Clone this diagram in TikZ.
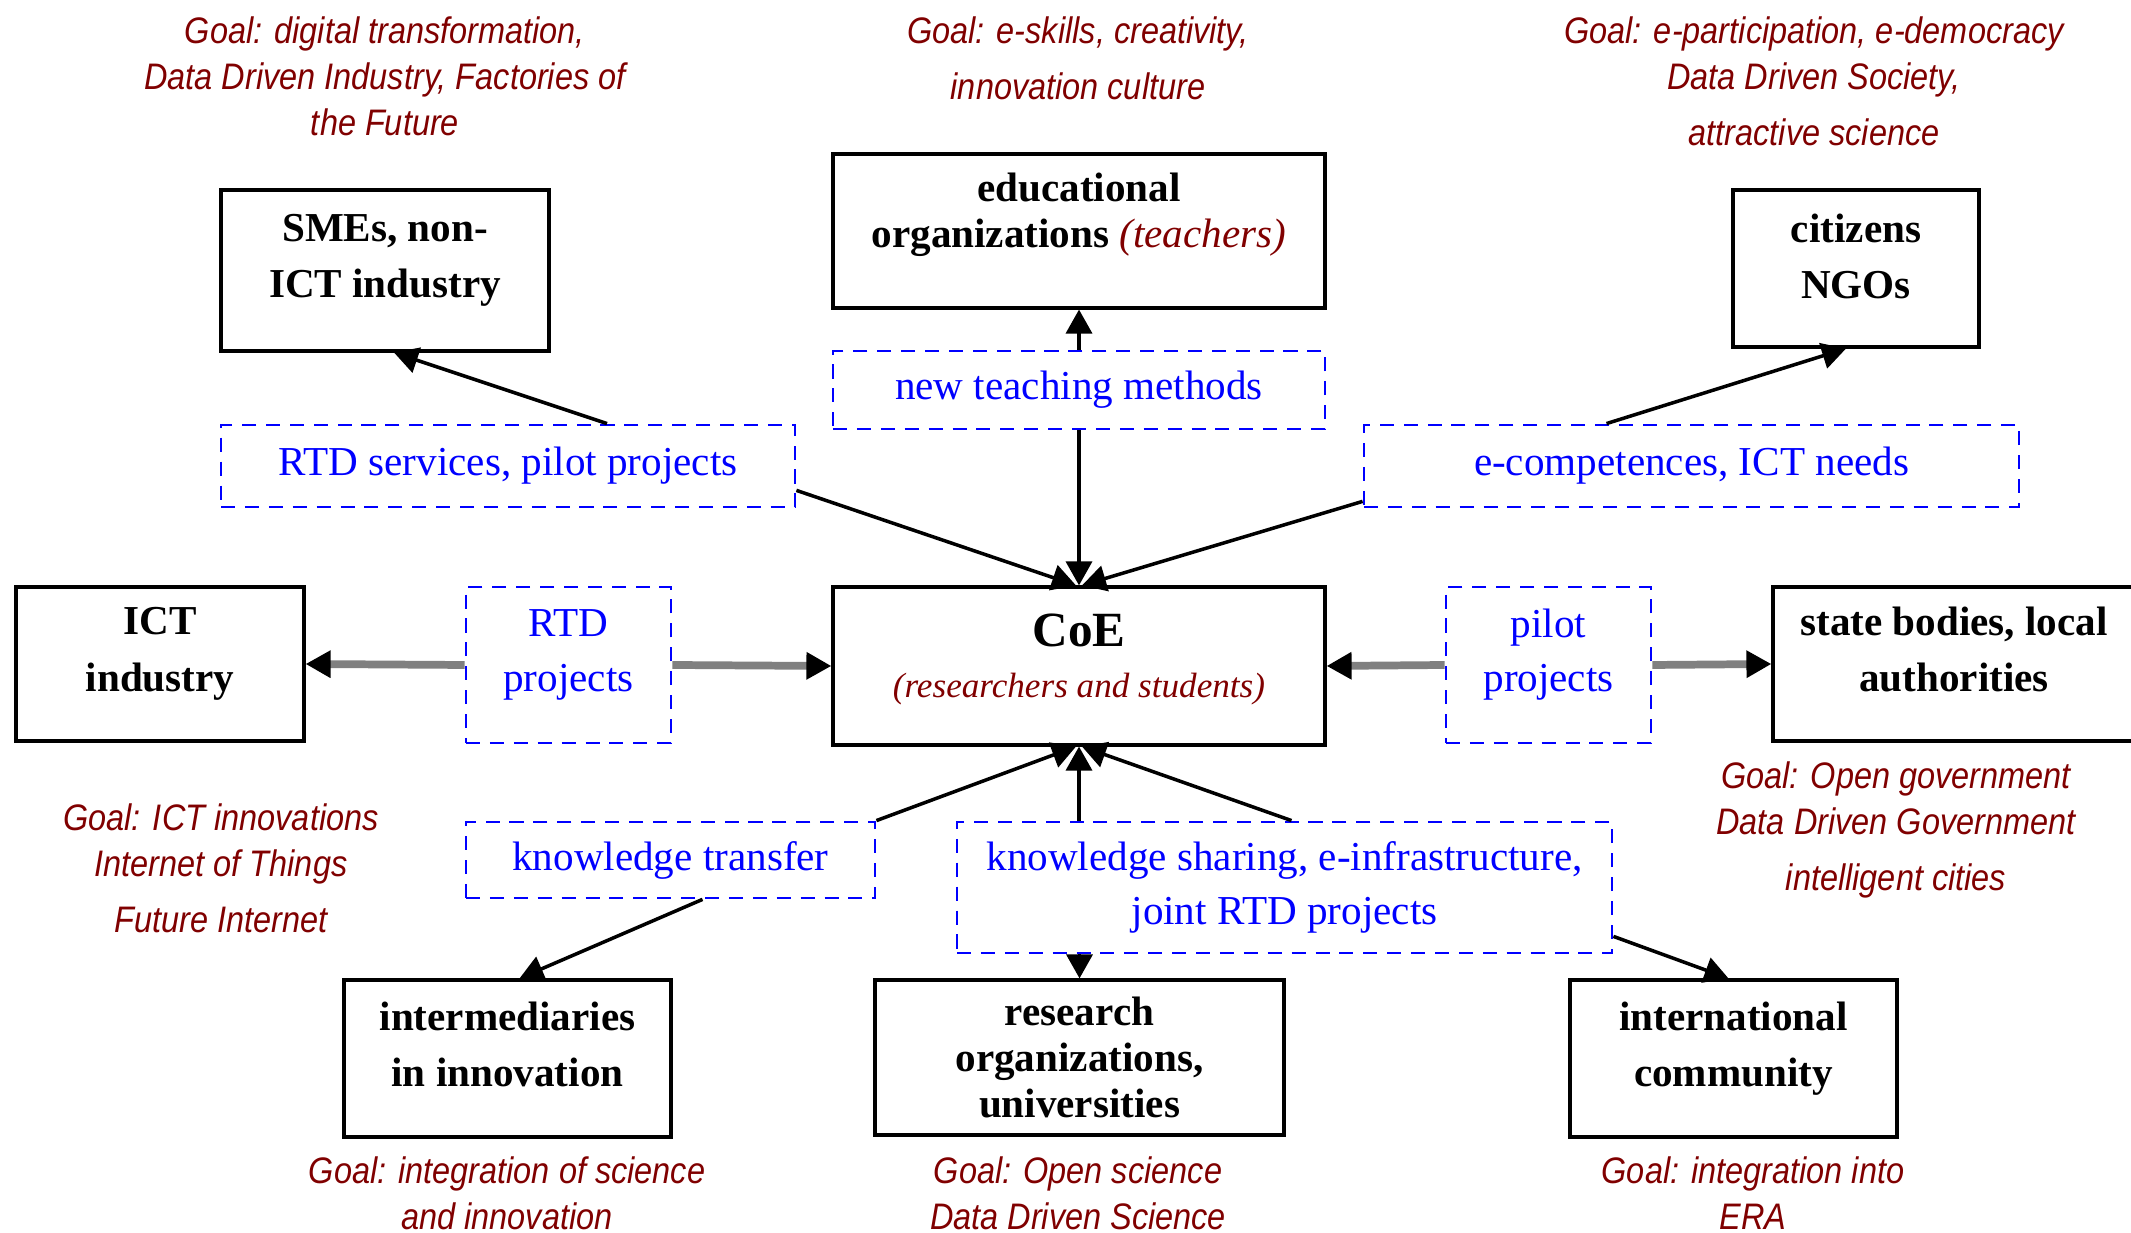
\documentclass[tikz,border=0pt]{standalone}
\usepackage{fontspec}
\setmainfont{Liberation Serif}
\newfontfamily\goalfont[FakeStretch=0.88]{Liberation Sans}
\usetikzlibrary{arrows.meta,positioning}
\definecolor{goalred}{RGB}{128,0,0}
\definecolor{linkblue}{RGB}{0,0,255}
\newcommand{\boxpad}{\rule[-2.9mm]{0pt}{0pt}}

\begin{document}
\begin{tikzpicture}
[line width=0.9pt, >={Triangle[length=2.4mm,width=2.6mm]},
actor/.style={rectangle, draw, line width=0.9pt, inner sep=0pt, align=center, font=\bfseries\fontsize{11.7}{16}\selectfont},
channel/.style={rectangle, draw=linkblue, dash pattern=on 4pt off 2.8pt, line width=0.8pt, inner sep=0pt, align=center, text=linkblue, font=\fontsize{11.7}{15.4}\selectfont},
goal/.style={align=center, text=goalred, font=\goalfont\itshape\fontsize{10.5}{13.1}\selectfont},
flow/.style={->, line width=1pt, draw=black},
bus/.style={-{Triangle[length=2.5mm,width=2.6mm,color=black]}, line width=2.2pt, draw=gray}]

\useasboundingbox (0,0) rectangle (21.31,12.33);

\node[goal] (gsme) at (3.85,11.57) {Goal: digital transformation,\\Data Driven Industry, Factories of\\the Future};
\node[goal] (gedu) at (10.78,11.75) {Goal: e-skills, creativity,\\[2.8pt]innovation culture};
\node[goal] (gcit) at (18.14,11.52) {Goal: e-participation, e-democracy\\Data Driven Society,\\[2.8pt]attractive science};

\node[actor, minimum width=3.28cm, minimum height=1.61cm] (sme) at (3.85,9.625) {SMEs, non-\\ICT industry\boxpad};
\node[actor, minimum width=4.92cm, minimum height=1.54cm, font=\bfseries\fontsize{11.7}{13}\selectfont] (edu) at (10.79,10.02) {educational\\organizations {\mdseries\itshape\color{goalred}(teachers)}\rule[-4.2mm]{0pt}{0pt}};
\node[actor, minimum width=2.46cm, minimum height=1.57cm] (cit) at (18.56,9.645) {citizens\\NGOs\rule[-2.4mm]{0pt}{0pt}};

\node[channel, minimum width=4.92cm, minimum height=0.78cm] (teach) at (10.79,8.43) {new teaching methods};
\node[channel, minimum width=5.74cm, minimum height=0.82cm] (rtds) at (5.08,7.67) {RTD services, pilot projects};
\node[channel, minimum width=6.55cm, minimum height=0.82cm] (ecomp) at (16.915,7.67) {e-competences, ICT needs};

\node[actor, minimum width=2.88cm, minimum height=1.54cm] (ict) at (1.60,5.69) {ICT\\industry\boxpad};
\node[channel, minimum width=2.05cm, minimum height=1.56cm] (rtdp) at (5.685,5.68) {RTD\\projects\boxpad};
\node[actor, minimum width=4.92cm, minimum height=1.58cm, font=\bfseries\fontsize{11.7}{14.5}\selectfont] (coe) at (10.79,5.67) {{\fontsize{14}{16}\selectfont CoE}\\{\mdseries\itshape\fontsize{10}{12}\selectfont\color{goalred}(researchers and students)}\rule[-2mm]{0pt}{0pt}};
\node[channel, minimum width=2.05cm, minimum height=1.56cm] (pilot) at (15.485,5.68) {pilot\\projects\boxpad};
\node[actor, minimum width=3.62cm, minimum height=1.54cm] (state) at (19.54,5.69) {state bodies, local\\authorities\boxpad};

\node[goal] (gict) at (2.21,3.645) {Goal: ICT innovations\\Internet of Things\\[2.8pt]Future Internet};
\node[goal] (gstate) at (18.96,4.03) {Goal: Open government\\Data Driven Government\\[2.8pt]intelligent cities};

\node[channel, minimum width=4.09cm, minimum height=0.76cm] (ktr) at (6.705,3.73) {knowledge transfer};
\node[channel, minimum width=6.55cm, minimum height=1.31cm] (ksh) at (12.845,3.455) {knowledge sharing, e-infrastructure,\\joint RTD projects};

\node[actor, minimum width=3.27cm, minimum height=1.57cm] (inter) at (5.075,1.745) {intermediaries\\in innovation\boxpad};
\node[actor, minimum width=4.09cm, minimum height=1.55cm, font=\bfseries\fontsize{11.7}{13}\selectfont] (res) at (10.795,1.755) {research\\organizations,\\universities};
\node[actor, minimum width=3.27cm, minimum height=1.57cm] (intl) at (17.335,1.745) {international\\community\boxpad};

\node[goal] (ginter) at (5.07,0.395) {Goal: integration of science\\and innovation};
\node[goal] (gres) at (10.78,0.395) {Goal: Open science\\Data Driven Science};
\node[goal] (gintl) at (17.53,0.395) {Goal: integration into\\ERA};

\draw[flow] ([xshift=0.99cm]rtds.north) -- ([xshift=0.09cm]sme.south);
\draw[flow] ([yshift=0.18cm]rtds.south east) -- ([xshift=-0.03cm]coe.north);
\draw[flow] (teach.north) -- (edu.south);
\draw[flow] (teach.south) -- (coe.north);
\draw[flow] ([yshift=0.07cm]ecomp.south west) -- ([xshift=0.03cm]coe.north);
\draw[flow] ([xshift=-0.85cm]ecomp.north) -- ([xshift=-0.1cm]cit.south);

\draw[bus] (rtdp.west) -- (ict.east);
\draw[bus] (rtdp.east) -- (coe.west);
\draw[bus] (pilot.west) -- (coe.east);
\draw[bus] (pilot.east) -- (state.west);

\draw[flow] (ktr.north east) -- ([xshift=-0.03cm]coe.south);
\draw[flow] ([xshift=0.32cm]ktr.south) -- ([xshift=0.12cm]inter.north);
\draw[flow] (coe.south |- ksh.north) -- (coe.south);
\draw[flow] ([xshift=0.07cm]ksh.north) -- ([xshift=0.03cm]coe.south);
\draw[flow] (res.north |- ksh.south) -- (res.north);
\draw[flow] ([yshift=0.18cm]ksh.south east) -- ([xshift=-0.05cm]intl.north);

\end{tikzpicture}
\end{document}
